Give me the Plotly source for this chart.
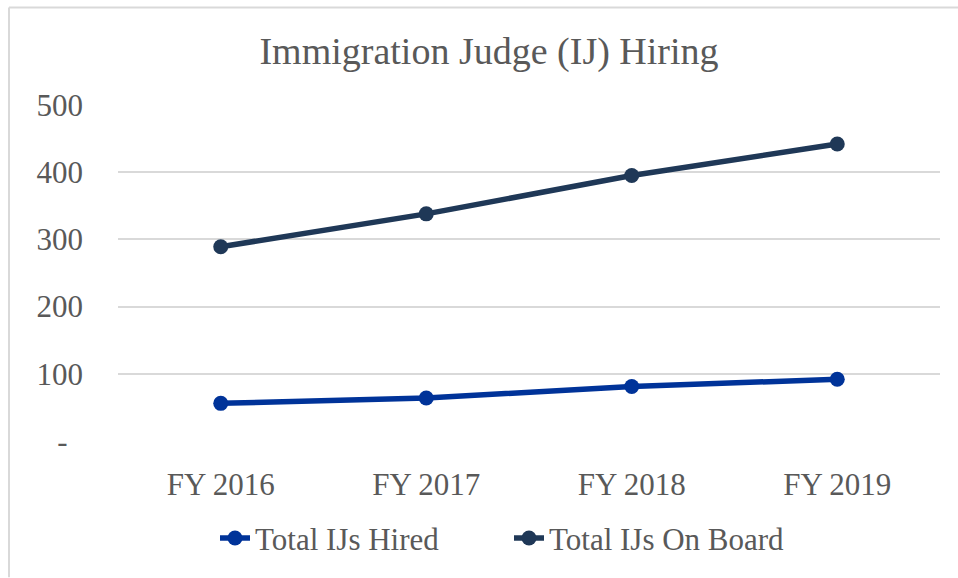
import plotly.graph_objects as go

categories = ["FY 2016", "FY 2017", "FY 2018", "FY 2019"]
hired = [56, 64, 81, 92]
on_board = [289, 338, 395, 442]
ytick_vals = [0, 100, 200, 300, 400, 500]
ytick_text = ["-\u00a0\u00a0", "100", "200", "300", "400", "500"]

FONT = "Liberation Serif, Times New Roman, serif"
TXT = "#595959"

fig = go.Figure()
fig.add_trace(go.Scatter(
    x=categories, y=hired, name="Total IJs Hired", mode="lines+markers",
    line=dict(color="#003399", width=5.5), marker=dict(size=15, color="#003399")))
fig.add_trace(go.Scatter(
    x=categories, y=on_board, name="Total IJs On Board", mode="lines+markers",
    line=dict(color="#1F3857", width=5.5), marker=dict(size=15, color="#1F3857")))

W, H = 958, 578
L, R, T, B = 118, 18, 105, 135
pw, ph = W - L - R, H - T - B

def px_x(p):
    return (p - L) / pw

def px_y(p):
    return (H - B - p) / ph

fig.update_layout(
    width=W, height=H,
    margin=dict(l=L, r=R, t=T, b=B),
    paper_bgcolor="white", plot_bgcolor="white",
    font=dict(family=FONT, color=TXT, size=31),
    title=dict(text="Immigration Judge (IJ) Hiring", x=489 / W, xanchor="center",
               y=1 - 51 / H, yanchor="middle",
               font=dict(family=FONT, size=38, color=TXT)),
    xaxis=dict(range=[-0.5, 3.5], showgrid=False, zeroline=False, showline=False,
               ticks="", ticklabelstandoff=22, tickfont=dict(size=31, color=TXT)),
    yaxis=dict(range=[0, 500], tickvals=ytick_vals, ticktext=ytick_text,
               showgrid=True, gridcolor="#D9D9D9", gridwidth=2, zeroline=False,
               showline=False, ticks="", ticklabelstandoff=34,
               tickfont=dict(size=31, color=TXT)),
    legend=dict(orientation="h", x=px_x(215), xanchor="left",
                y=px_y(541), yanchor="middle",
                font=dict(size=31, color=TXT), entrywidth=249,
                bgcolor="rgba(0,0,0,0)"),
    showlegend=True,
    shapes=[
        dict(type="line", xref="paper", yref="paper",
             x0=px_x(9), x1=px_x(958), y0=px_y(7), y1=px_y(7),
             line=dict(color="#D9D9D9", width=2)),
        dict(type="line", xref="paper", yref="paper",
             x0=px_x(9), x1=px_x(9), y0=px_y(7), y1=px_y(580),
             line=dict(color="#D9D9D9", width=2)),
    ],
)

fig.write_html("out.html", config={"displayModeBar": False},
               post_script="document.body.style.margin='0';document.body.style.overflow='hidden';")
